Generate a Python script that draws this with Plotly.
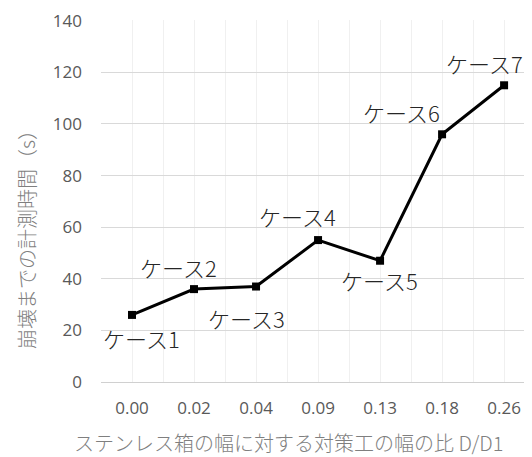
import plotly.graph_objects as go

categories = ["0.00", "0.02", "0.04", "0.09", "0.13", "0.18", "0.26"]
values = [26, 36, 37, 55, 47, 96, 115]
case_labels = ["ケース1", "ケース2", "ケース3", "ケース4", "ケース5", "ケース6", "ケース7"]
y_ticks = [0, 20, 40, 60, 80, 100, 120, 140]
x_title = "ステンレス箱の幅に対する対策工の幅の比 D/D1"
y_title = "崩壊までの計測時間（s）"

label_offsets = [(9, -23), (-16, 22), (-10, -31), (-21, 24), (-1, -19), (-41, 22), (-20, 22)]

FONT = "Noto Sans CJK JP"
NUMFONT = "Open Sans, Noto Sans CJK JP"
xs = list(range(len(categories)))

fig = go.Figure()
fig.add_trace(go.Scatter(
    x=xs, y=values, mode="lines+markers",
    line=dict(color="black", width=3),
    marker=dict(symbol="square", size=8, color="black"),
    showlegend=False, hoverinfo="skip", cliponaxis=False,
))

for x, y, t, (dx, dy) in zip(xs, values, case_labels, label_offsets):
    fig.add_annotation(x=x, y=y, text=t, showarrow=False, xshift=dx, yshift=dy,
                       xanchor="center", yanchor="middle",
                       font=dict(family=FONT, size=22, color="#262626", weight=300))

fig.add_annotation(xref="paper", yref="paper", x=0.434, y=-0.166, text=x_title,
                   xanchor="center", yanchor="middle", borderpad=0,
                   showarrow=False, font=dict(family=FONT, size=20, color="#7f7f7f", weight=300))
fig.add_annotation(xref="paper", yref="paper", x=-0.174, y=0.406, text=y_title,
                   xanchor="center", yanchor="middle",
                   textangle=-90, showarrow=False, font=dict(family=FONT, size=20, color="#7f7f7f", weight=300))

fig.update_layout(
    width=532, height=457,
    margin=dict(l=93, r=8, t=12, b=83, autoexpand=False),
    paper_bgcolor="white", plot_bgcolor="white",
    font=dict(family=FONT),
    xaxis=dict(
        range=[-0.5, 6.45], tickvals=xs, ticktext=categories,
        showgrid=True, gridcolor="#f0f0f0", gridwidth=1,
        minor=dict(tick0=0.5, dtick=1, showgrid=True, gridcolor="#f0f0f0", gridwidth=1),
        zeroline=False, showline=False, ticks="", automargin=False,
        tickfont=dict(family=NUMFONT, size=17, color="#595959"),
        ticklabelstandoff=14,
    ),
    yaxis=dict(
        range=[0, 140.3], tickvals=y_ticks,
        showgrid=True, gridcolor="#d9d9d9", gridwidth=1,
        zeroline=True, zerolinecolor="#d0d0d0", zerolinewidth=1,
        showline=False, ticks="", automargin=False,
        tickfont=dict(family=NUMFONT, size=17, color="#595959"),
        ticklabelstandoff=18,
    ),
)

fig.write_html("out.html")
